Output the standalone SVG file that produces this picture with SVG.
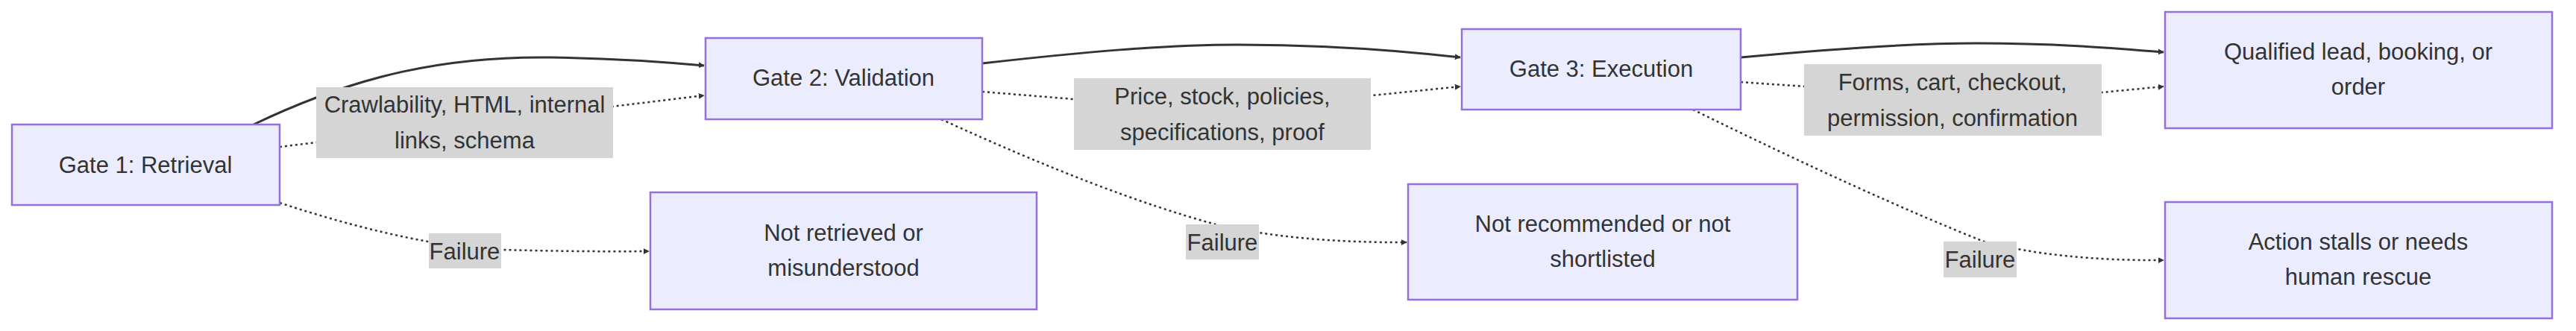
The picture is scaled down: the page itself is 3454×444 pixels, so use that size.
<svg xmlns="http://www.w3.org/2000/svg" width="3454" height="444" viewBox="0 0 3454 444">
<style>
.n rect{fill:#ECECFF;stroke:#9370DB;stroke-width:2.5}
text{font-family:"Liberation Sans",Arial,sans-serif;font-size:31px;fill:#333;text-anchor:middle;dominant-baseline:central}
.e{fill:none;stroke:#333;stroke-width:3}
.d{stroke-dasharray:3 4;stroke-width:2.5}
.lb{fill:#d5d5d5}
</style>
<defs><marker id="a" viewBox="0 0 10 10" refX="9" refY="5" markerWidth="7" markerHeight="7" markerUnits="userSpaceOnUse" orient="auto"><path d="M0,0L10,5L0,10z" fill="#333"/></marker>
<marker id="b" viewBox="0 0 10 10" refX="9" refY="5" markerWidth="8" markerHeight="8" orient="auto" markerUnits="userSpaceOnUse"><path d="M0,0L10,5L0,10z" fill="#333"/></marker></defs>
<g id="edges">
<path class="e" marker-end="url(#b)" d="M340,167 C480,100 600,75 740,77 C820,78 880,82 944,88"/>
<path class="e d" marker-end="url(#b)" d="M375,197 L944,128"/>
<path class="e d" marker-end="url(#b)" d="M375,272 Q520,320 640,334 Q760,338 870,337"/>
<path class="e" marker-end="url(#b)" d="M1317,85 C1450,70 1560,60 1660,60 C1780,60 1880,68 1958,77"/>
<path class="e d" marker-end="url(#b)" d="M1317,123 L1440,133 L1840,128 L1958,116"/>
<path class="e d" marker-end="url(#b)" d="M1262,160 Q1480,260 1630,301 Q1740,326 1886,325"/>
<path class="e" marker-end="url(#b)" d="M2334,77 C2450,66 2560,58 2650,58 C2750,58 2830,64 2901,70"/>
<path class="e d" marker-end="url(#b)" d="M2334,110 L2420,116 L2818,124 L2901,116"/>
<path class="e d" marker-end="url(#b)" d="M2270,147 Q2500,260 2660,324 Q2760,350 2901,349"/>
</g>
<g id="labels">
<rect class="lb" x="424" y="117" width="398" height="95"/><text x="623" y="140">Crawlability, HTML, internal</text><text x="623" y="188">links, schema</text>
<rect class="lb" x="575" y="313" width="97" height="47"/><text x="623" y="337">Failure</text>
<rect class="lb" x="1440" y="105" width="398" height="96"/><text x="1639" y="129">Price, stock, policies,</text><text x="1639" y="177">specifications, proof</text>
<rect class="lb" x="1590" y="301" width="98" height="47"/><text x="1639" y="325">Failure</text>
<rect class="lb" x="2419" y="86" width="399" height="96"/><text x="2618" y="110">Forms, cart, checkout,</text><text x="2618" y="158">permission, confirmation</text>
<rect class="lb" x="2606" y="324" width="98" height="48"/><text x="2655" y="348">Failure</text>
</g>
<g id="g1" class="n"><rect x="16" y="167" width="359" height="108"/><text x="195" y="221">Gate 1: Retrieval</text></g>
<g id="g2" class="n"><rect x="946" y="51" width="371" height="109"/><text x="1131" y="104">Gate 2: Validation</text></g>
<g id="g3" class="n"><rect x="1960" y="39" width="374" height="108"/><text x="2147" y="92">Gate 3: Execution</text></g>
<g id="q" class="n"><rect x="2903" y="16" width="519" height="156"/><text x="3162" y="69">Qualified lead, booking, or</text><text x="3162" y="116">order</text></g>
<g id="f1" class="n"><rect x="872" y="258" width="518" height="157"/><text x="1131" y="312">Not retrieved or</text><text x="1131" y="359">misunderstood</text></g>
<g id="f2" class="n"><rect x="1888" y="247" width="522" height="155"/><text x="2149" y="300">Not recommended or not</text><text x="2149" y="347">shortlisted</text></g>
<g id="f3" class="n"><rect x="2903" y="271" width="519" height="156"/><text x="3162" y="324">Action stalls or needs</text><text x="3162" y="371">human rescue</text></g>
</svg>
